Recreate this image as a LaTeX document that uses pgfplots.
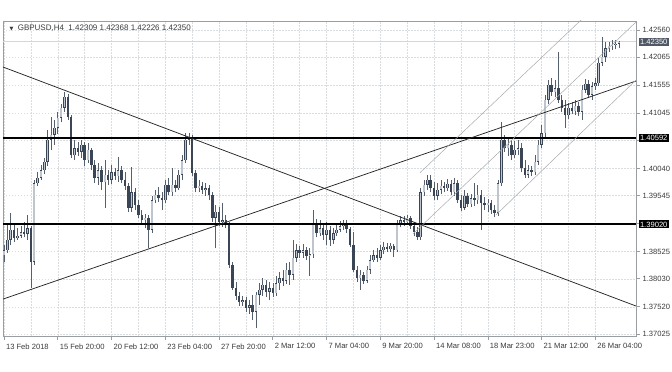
\documentclass[border=0pt]{standalone}
\usepackage{pgfplots}
\pgfplotsset{compat=1.18}
\usepackage{pgfplotstable}
\usepackage{fontspec}
\setmainfont{Liberation Sans}
\newfontfamily\dv{DejaVu Sans}
\definecolor{cdark}{HTML}{3A4556}
\definecolor{clight}{HTML}{BEC5CE}
\definecolor{cwick}{HTML}{56606D}
\definecolor{gridc}{HTML}{DADDE0}
\definecolor{framec}{HTML}{9A9EA3}
\definecolor{txt}{HTML}{3A3A3A}
\definecolor{chan}{HTML}{A6A9AD}
\definecolor{trend}{HTML}{262626}
\definecolor{bidc}{HTML}{D4D6D9}
\definecolor{pricebox}{HTML}{4F5864}

\pgfplotstableread{
x o h l c
0 1.3846 1.3864 1.3834 1.3855
1 1.3855 1.3901 1.3850 1.3874
2 1.3874 1.3923 1.3864 1.3892
3 1.3892 1.3901 1.3870 1.3877
4 1.3877 1.3895 1.3874 1.3881
5 1.3881 1.3899 1.3877 1.3888
6 1.3888 1.3906 1.3879 1.3885
7 1.3885 1.3919 1.3874 1.3895
8 1.3895 1.3899 1.3786 1.3834
9 1.3834 1.3983 1.3828 1.3977
10 1.3977 1.3997 1.3972 1.3987
11 1.3987 1.4010 1.3983 1.4001
12 1.4001 1.4023 1.3994 1.4016
13 1.4016 1.4074 1.4008 1.4056
14 1.4056 1.4098 1.4038 1.4065
15 1.4065 1.4092 1.4047 1.4078
16 1.4078 1.4107 1.4067 1.4096
17 1.4096 1.4121 1.4088 1.4114
18 1.4114 1.4143 1.4107 1.4134
19 1.4134 1.4139 1.4092 1.4098
20 1.4098 1.4101 1.4023 1.4028
21 1.4028 1.4056 1.4019 1.4041
22 1.4041 1.4052 1.4027 1.4034
23 1.4034 1.4056 1.4023 1.4047
24 1.4047 1.4052 1.4008 1.4019
25 1.4019 1.4050 1.4014 1.4038
26 1.4038 1.4041 1.4001 1.4010
27 1.4010 1.4019 1.3977 1.3987
28 1.3987 1.4014 1.3974 1.4001
29 1.4001 1.4008 1.3965 1.3979
30 1.3979 1.4019 1.3932 1.3992
31 1.3992 1.4001 1.3974 1.3983
32 1.3983 1.4010 1.3976 1.3997
33 1.3997 1.4005 1.3983 1.3990
34 1.3990 1.4025 1.3979 1.4001
35 1.4001 1.4008 1.3977 1.3983
36 1.3983 1.3997 1.3965 1.3972
37 1.3972 1.3977 1.3925 1.3932
38 1.3932 1.4007 1.3925 1.3961
39 1.3961 1.3968 1.3928 1.3937
40 1.3937 1.3946 1.3914 1.3919
41 1.3919 1.3928 1.3903 1.3910
42 1.3910 1.3921 1.3895 1.3914
43 1.3914 1.3919 1.3859 1.3892
44 1.3892 1.3954 1.3886 1.3946
45 1.3946 1.3965 1.3941 1.3956
46 1.3956 1.3970 1.3943 1.3950
47 1.3950 1.3961 1.3928 1.3946
48 1.3946 1.3983 1.3941 1.3974
49 1.3974 1.3987 1.3956 1.3961
50 1.3961 1.4005 1.3954 1.3974
51 1.3974 1.3983 1.3961 1.3968
52 1.3968 1.4001 1.3965 1.3992
53 1.3992 1.4028 1.3983 1.4019
54 1.4019 1.4068 1.4014 1.4056
55 1.4056 1.4068 1.4047 1.4061
56 1.4061 1.4065 1.3990 1.3996
57 1.3996 1.4001 1.3961 1.3968
58 1.3968 1.3983 1.3961 1.3972
59 1.3972 1.3979 1.3957 1.3965
60 1.3965 1.3977 1.3954 1.3968
61 1.3968 1.3974 1.3946 1.3956
62 1.3956 1.3961 1.3906 1.3914
63 1.3914 1.3937 1.3859 1.3925
64 1.3925 1.3934 1.3899 1.3906
65 1.3906 1.3941 1.3897 1.3910
66 1.3910 1.3919 1.3895 1.3901
67 1.3901 1.3906 1.3823 1.3828
68 1.3828 1.3834 1.3783 1.3786
69 1.3786 1.3797 1.3764 1.3772
70 1.3772 1.3779 1.3754 1.3761
71 1.3761 1.3772 1.3754 1.3764
72 1.3764 1.3770 1.3743 1.3750
73 1.3750 1.3764 1.3739 1.3755
74 1.3755 1.3774 1.3728 1.3743
75 1.3743 1.3779 1.3713 1.3774
76 1.3774 1.3795 1.3755 1.3783
77 1.3783 1.3804 1.3772 1.3792
78 1.3792 1.3801 1.3770 1.3779
79 1.3779 1.3797 1.3764 1.3786
80 1.3786 1.3795 1.3770 1.3777
81 1.3777 1.3808 1.3772 1.3795
82 1.3795 1.3815 1.3783 1.3804
83 1.3804 1.3819 1.3790 1.3799
84 1.3799 1.3832 1.3794 1.3819
85 1.3819 1.3834 1.3792 1.3810
86 1.3810 1.3874 1.3801 1.3841
87 1.3841 1.3866 1.3834 1.3855
88 1.3855 1.3863 1.3841 1.3850
89 1.3850 1.3866 1.3841 1.3855
90 1.3855 1.3861 1.3837 1.3844
91 1.3844 1.3859 1.3808 1.3848
92 1.3848 1.3928 1.3841 1.3901
93 1.3901 1.3912 1.3879 1.3886
94 1.3886 1.3910 1.3881 1.3895
95 1.3895 1.3903 1.3874 1.3883
96 1.3883 1.3906 1.3864 1.3892
97 1.3892 1.3899 1.3863 1.3874
98 1.3874 1.3895 1.3866 1.3886
99 1.3886 1.3903 1.3881 1.3892
100 1.3892 1.3908 1.3888 1.3899
101 1.3899 1.3910 1.3892 1.3903
102 1.3903 1.3910 1.3886 1.3894
103 1.3894 1.3897 1.3861 1.3864
104 1.3864 1.3888 1.3815 1.3819
105 1.3819 1.3826 1.3797 1.3804
106 1.3804 1.3819 1.3783 1.3810
107 1.3810 1.3815 1.3794 1.3799
108 1.3799 1.3826 1.3795 1.3819
109 1.3819 1.3846 1.3812 1.3837
110 1.3837 1.3855 1.3834 1.3846
111 1.3846 1.3859 1.3834 1.3841
112 1.3841 1.3864 1.3837 1.3855
113 1.3855 1.3870 1.3848 1.3861
114 1.3861 1.3868 1.3852 1.3857
115 1.3857 1.3868 1.3852 1.3863
116 1.3863 1.3866 1.3843 1.3855
117 1.3855 1.3910 1.3852 1.3903
118 1.3903 1.3917 1.3897 1.3910
119 1.3910 1.3917 1.3899 1.3906
120 1.3906 1.3919 1.3901 1.3914
121 1.3914 1.3917 1.3894 1.3899
122 1.3899 1.3906 1.3881 1.3888
123 1.3888 1.3897 1.3874 1.3879
124 1.3879 1.3968 1.3874 1.3961
125 1.3961 1.3983 1.3954 1.3974
126 1.3974 1.3992 1.3965 1.3983
127 1.3983 1.3992 1.3961 1.3968
128 1.3968 1.3979 1.3946 1.3954
129 1.3954 1.3977 1.3946 1.3965
130 1.3965 1.3983 1.3957 1.3972
131 1.3972 1.3979 1.3961 1.3968
132 1.3968 1.3985 1.3963 1.3976
133 1.3976 1.3983 1.3956 1.3961
134 1.3961 1.3987 1.3954 1.3977
135 1.3977 1.3983 1.3941 1.3946
136 1.3946 1.3956 1.3926 1.3932
137 1.3932 1.3965 1.3928 1.3954
138 1.3954 1.3959 1.3934 1.3939
139 1.3939 1.3957 1.3934 1.3950
140 1.3950 1.3977 1.3935 1.3946
141 1.3946 1.3974 1.3939 1.3956
142 1.3956 1.3965 1.3892 1.3941
143 1.3941 1.3952 1.3928 1.3937
144 1.3937 1.3948 1.3925 1.3941
145 1.3941 1.3946 1.3921 1.3928
146 1.3928 1.3937 1.3915 1.3923
147 1.3923 1.3983 1.3917 1.3977
148 1.3977 1.4088 1.3972 1.4056
149 1.4056 1.4065 1.4034 1.4041
150 1.4041 1.4061 1.4027 1.4047
151 1.4047 1.4056 1.4019 1.4028
152 1.4028 1.4054 1.4023 1.4038
153 1.4038 1.4056 1.4028 1.4041
154 1.4041 1.4050 1.3997 1.4005
155 1.4005 1.4019 1.3987 1.3992
156 1.3992 1.4010 1.3987 1.4001
157 1.4001 1.4008 1.3990 1.3997
158 1.3997 1.4028 1.3992 1.4016
159 1.4016 1.4056 1.4010 1.4047
160 1.4047 1.4083 1.4041 1.4068
161 1.4068 1.4138 1.4059 1.4129
162 1.4129 1.4165 1.4121 1.4156
163 1.4156 1.4169 1.4136 1.4143
164 1.4143 1.4165 1.4134 1.4150
165 1.4150 1.4216 1.4123 1.4129
166 1.4129 1.4138 1.4107 1.4114
167 1.4114 1.4129 1.4078 1.4101
168 1.4101 1.4123 1.4094 1.4114
169 1.4114 1.4125 1.4103 1.4108
170 1.4108 1.4129 1.4101 1.4118
171 1.4118 1.4125 1.4099 1.4107
172 1.4107 1.4156 1.4092 1.4147
173 1.4147 1.4167 1.4141 1.4158
174 1.4158 1.4165 1.4132 1.4138
175 1.4138 1.4161 1.4129 1.4154
176 1.4154 1.4169 1.4147 1.4159
177 1.4159 1.4205 1.4154 1.4196
178 1.4196 1.4243 1.4191 1.4207
179 1.4207 1.4234 1.4198 1.4223
180 1.4223 1.4234 1.4216 1.4227
181 1.4227 1.4238 1.4220 1.4229
182 1.4229 1.4238 1.4221 1.4231
183 1.42309 1.42368 1.42226 1.42350
}\candles

\pgfplotsset{candlebase/.style={only marks, mark=*, mark size=0pt, mark options={draw=none, fill=none}}}

\begin{document}
\begin{tikzpicture}
\path[use as bounding box] (-3pt,-36pt) rectangle (669pt,336pt);
\begin{axis}[
  at={(0,0)}, anchor=south west,
  width=633pt, height=315pt, scale only axis,
  xmin=-0.3, xmax=188.1, ymin=1.36988, ymax=1.42724,
  clip mode=individual,
  axis line style={framec, line width=0.8pt},
  xtick={0,16,...,176},
  xticklabels={13 Feb 2018, 15 Feb 20:00, 20 Feb 12:00, 23 Feb 04:00, 27 Feb 20:00, 2 Mar 12:00, 7 Mar 04:00, 9 Mar 20:00, 14 Mar 08:00, 18 Mar 23:00, 21 Mar 12:00, 26 Mar 04:00},
  minor x tick num=1,
  ytick={1.37025,1.37520,1.38030,1.38525,1.39035,1.39545,1.40040,1.40550,1.41045,1.41555,1.42065,1.42560},
  yticklabels={1.37025,1.37520,1.38030,1.38525,,1.39545,1.40040,,1.41045,1.41555,1.42065,1.42560},
  xtick pos=bottom, ytick pos=right, yticklabel pos=right,
  tick align=outside,
  major tick length=4pt, minor tick length=0pt,
  tick style={framec, line width=0.6pt},
  xticklabel style={font=\fontsize{7.6}{8}\selectfont, text=txt, anchor=north west, xshift=-1.5pt},
  yticklabel style={font=\fontsize{7.6}{8}\selectfont, text=txt, anchor=west, xshift=-1pt},
  grid=both,
  major grid style={gridc, dash pattern=on 1.5pt off 1.5pt, line width=0.5pt},
  minor grid style={gridc, dash pattern=on 1.5pt off 1.5pt, line width=0.5pt},
]
% bid line
\addplot[bidc, line width=0.8pt] coordinates {(-0.3,1.42350) (188.1,1.42350)};
% candles: wicks
\addplot[candlebase, error bars/.cd, y dir=plus, y explicit, error mark=none,
  error bar style={draw=cwick, line width=0.55pt}]
  table[x=x, y=l, y error plus expr={\thisrow{h}-\thisrow{l}}] {\candles};
% bodies (outline / bearish fill)
\addplot[candlebase, error bars/.cd, y dir=plus, y explicit, error mark=none,
  error bar style={draw=cdark, line width=2.5pt}]
  table[x=x, y expr={min(\thisrow{o},\thisrow{c})}, y error plus expr={max(abs(\thisrow{c}-\thisrow{o}),0.00012)}] {\candles};
% bullish fill
\addplot[candlebase, error bars/.cd, y dir=plus, y explicit, error mark=none,
  error bar style={draw=clight, line width=1.5pt}]
  table[x=x, y expr={\thisrow{o}+0.00009}, y error plus expr={max(\thisrow{c}-\thisrow{o}-0.00018,0)}] {\candles};
% horizontal levels
\addplot[black, line width=1.9pt] coordinates {(-0.3,1.40592) (188.1,1.40592)};
\addplot[black, line width=1.9pt] coordinates {(-0.3,1.39020) (188.1,1.39020)};
% trend lines
\addplot[trend, line width=0.75pt] coordinates {(-0.3,1.41886) (188.1,1.37534)};
\addplot[trend, line width=0.75pt] coordinates {(-0.3,1.37660) (188.1,1.41631)};
% channel
\addplot[chan, line width=0.5pt] coordinates {(123.8,1.39960) (174.3,1.42890)};
\addplot[chan, line width=0.5pt] coordinates {(121.7,1.38845) (188.1,1.42705)};
\addplot[chan, line width=0.5pt] coordinates {(146.4,1.39191) (188.1,1.41649)};
% right labels
\node[fill=pricebox, text=white, anchor=west, inner sep=1.3pt, font=\fontsize{7.6}{8}\selectfont, xshift=2.5pt] at (axis cs:188.1,1.42350) {1.42350};
\node[fill=black, text=white, anchor=west, inner sep=1.3pt, font=\fontsize{7.6}{8}\selectfont, xshift=2.5pt] at (axis cs:188.1,1.40592) {1.40592};
\node[fill=black, text=white, anchor=west, inner sep=1.3pt, font=\fontsize{7.6}{8}\selectfont, xshift=2.5pt] at (axis cs:188.1,1.39020) {1.39020};
% title
\node[anchor=west, text=txt, font=\fontsize{8}{9}\selectfont, xshift=3pt, yshift=-7pt] at (rel axis cs:0,1) {{\dv\fontsize{5}{5}\selectfont ▼}\ \ GBPUSD,H4\ \ 1.42309 1.42368 1.42226 1.42350};
\end{axis}
\end{tikzpicture}
\end{document}
